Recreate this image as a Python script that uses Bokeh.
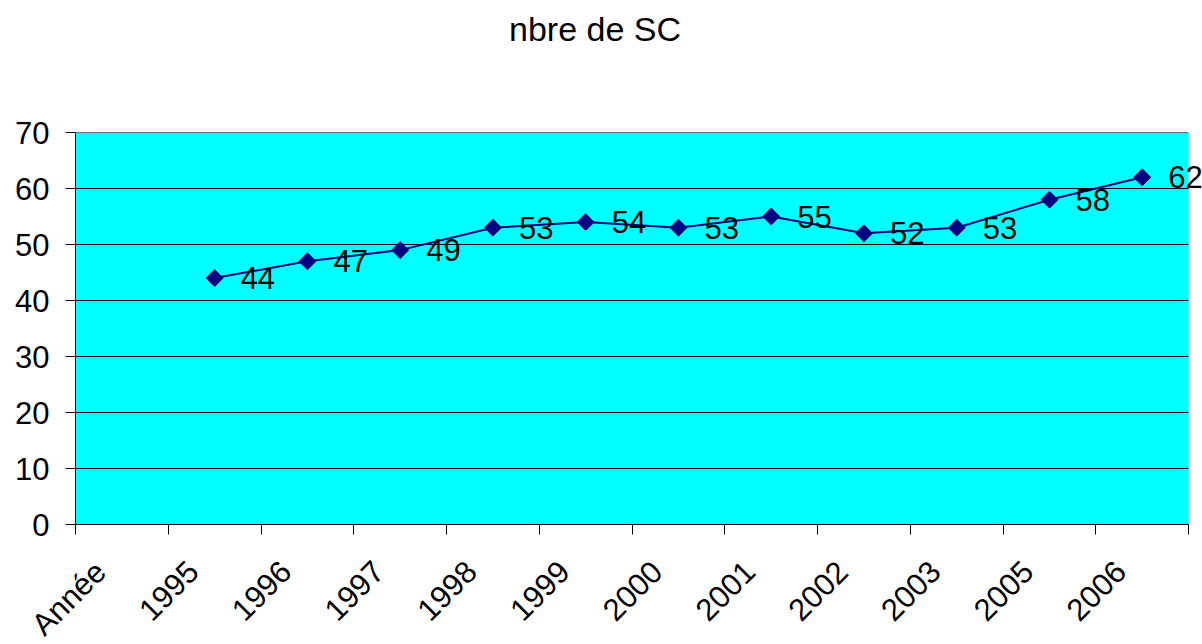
import math
from bokeh.plotting import figure
from bokeh.layouts import column
from bokeh.models import (Range1d, FixedTicker, ColumnDataSource, LabelSet,
                          BoxAnnotation, Div)
from bokeh.core.properties import value
from bokeh.embed import file_html
from bokeh.resources import INLINE

# ---- data ----
categories = ["Année", "1995", "1996", "1997", "1998", "1999", "2000",
              "2001", "2002", "2003", "2005", "2006"]
values = [None, 44, 47, 49, 53, 54, 53, 55, 52, 53, 58, 62]
y_ticks = [0, 10, 20, 30, 40, 50, 60, 70]
title_text = "nbre de SC"

FONT = "Liberation Sans"
NAVY = "#000080"
CYAN = "#00FFFF"
LABEL_SHIFT = -0.23   # rotated category labels end slightly left of the category centre
RIGHT_PAD = 0.15      # extra room right of the plot area for the last data label
TITLE_H = 64

n = len(categories)
centers = [i + 0.5 for i in range(n)]
boundaries = [i for i in range(n + 1)]
label_pos = [c + LABEL_SHIFT for c in centers]

xs = [centers[i] for i, v in enumerate(values) if v is not None]
ys = [v for v in values if v is not None]
src = ColumnDataSource(dict(x=xs, y=ys, lab=[str(v) for v in ys]))
grid_src = ColumnDataSource(dict(x0=[0] * len(y_ticks), x1=[n] * len(y_ticks),
                                 y=y_ticks))

title = Div(text=title_text, width=1202, height=TITLE_H,
            styles={"font-family": FONT, "font-size": "34px", "color": "black",
                    "line-height": "1", "padding-top": "12px",
                    "padding-left": "509px", "margin": "0"})

p = figure(frame_width=1127, frame_height=392, output_backend="svg",
           toolbar_location=None,
           x_range=Range1d(0, n + RIGHT_PAD), y_range=Range1d(0, 70),
           min_border_left=75, min_border_right=0, min_border_top=132 - TITLE_H,
           min_border_bottom=0)

p.background_fill_color = "white"
p.border_fill_color = "white"
p.outline_line_color = None

# plot area (cyan) covers only the category span
p.add_layout(BoxAnnotation(left=0, right=n, bottom=0, top=70,
                           fill_color=CYAN, fill_alpha=1.0, line_color=None,
                           level="underlay"))

# y axis
p.yaxis.ticker = FixedTicker(ticks=y_ticks)
p.yaxis.major_label_text_font = FONT
p.yaxis.major_label_text_font_size = "31px"
p.yaxis.major_label_text_color = "black"
p.yaxis.major_tick_in = 0
p.yaxis.major_tick_out = 10
p.yaxis.minor_tick_out = 0
p.yaxis.minor_tick_in = 0
p.yaxis.axis_line_color = "black"
p.yaxis.major_tick_line_color = "black"
p.yaxis.major_label_standoff = 16

# x axis: labels near category centres, tick marks at category boundaries
p.xaxis.bounds = (0, n)
p.xaxis.ticker = FixedTicker(ticks=label_pos, minor_ticks=boundaries)
p.xaxis.major_label_overrides = {c: lab for c, lab in zip(label_pos, categories)}
p.xaxis.major_label_orientation = math.pi / 4
p.xaxis.major_label_text_font = FONT
p.xaxis.major_label_text_font_size = "31px"
p.xaxis.major_label_text_color = "black"
p.xaxis.major_tick_in = 0
p.xaxis.major_tick_out = 0
p.xaxis.minor_tick_in = 0
p.xaxis.minor_tick_out = 10
p.xaxis.minor_tick_line_color = "black"
p.xaxis.axis_line_color = "black"
p.xaxis.major_label_standoff = 32

p.xgrid.grid_line_color = None
p.ygrid.grid_line_color = None

# horizontal gridlines across the plot area only
p.segment(x0="x0", x1="x1", y0="y", y1="y", source=grid_src,
          line_color="black", line_width=1)

p.line("x", "y", source=src, line_color=NAVY, line_width=2)
p.scatter("x", "y", source=src, marker="square", angle=math.pi / 4, size=12,
          fill_color=NAVY, line_color=NAVY)

labels = LabelSet(x="x", y="y", text="lab", source=src, x_offset=26, y_offset=0,
                  text_baseline="middle", text_align="left",
                  text_font=value(FONT), text_font_size=value("31px"),
                  text_color="black")
p.add_layout(labels)

layout = column(title, p, spacing=0)
open("out.html", "w").write(file_html(layout, INLINE))
